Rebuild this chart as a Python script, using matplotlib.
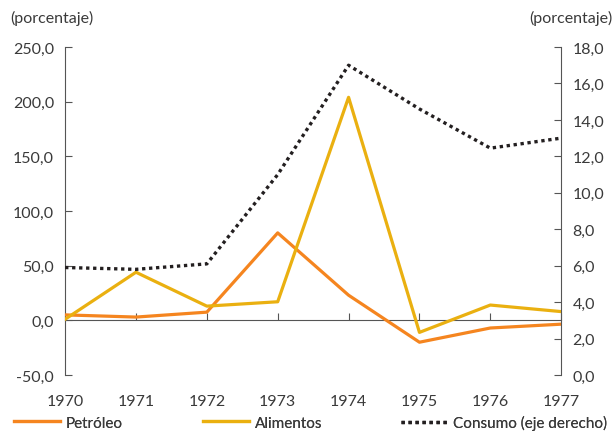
import matplotlib
matplotlib.use("Agg")
import matplotlib.pyplot as plt
from matplotlib.ticker import FuncFormatter

plt.rcParams["font.family"] = ["Lato", "DejaVu Sans"]

# datos
years = [1970, 1971, 1972, 1973, 1974, 1975, 1976, 1977]
petroleo = [5.0, 3.0, 7.5, 80.0, 23.0, -20.0, -7.0, -3.5]
alimentos = [1.0, 44.0, 13.0, 17.0, 204.0, -11.0, 14.0, 8.0]
consumo = [5.9, 5.8, 6.1, 11.0, 17.0, 14.6, 12.45, 13.0]

c_pet = "#F5851F"
c_ali = "#EAB010"
c_con = "#231F20"
txt = "#3a3a3a"
axc = "#555555"

fig = plt.figure(figsize=(6.14, 4.35), dpi=100)
ax = fig.add_axes([0.106, 0.1356, 0.808, 0.754])
ax2 = ax.twinx()

l_pet, = ax.plot(years, petroleo, color=c_pet, lw=2.3, label="Petróleo", zorder=3)
l_ali, = ax.plot(years, alimentos, color=c_ali, lw=2.3, label="Alimentos", zorder=3)
l_con, = ax2.plot(years, consumo, color=c_con, lw=2.4, linestyle=(0, (1, 1.1)),
                  label="Consumo (eje derecho)")

ax.set_xlim(1970, 1977)
ax.set_ylim(-50, 250)
ax2.set_ylim(0, 18)
ax.set_yticks([-50, 0, 50, 100, 150, 200, 250])
ax2.set_yticks([0, 2, 4, 6, 8, 10, 12, 14, 16, 18])

fmt = FuncFormatter(lambda v, p: f"{v:.1f}".replace(".", ","))
ax.yaxis.set_major_formatter(fmt)
ax2.yaxis.set_major_formatter(fmt)

for a in (ax, ax2):
    a.spines["top"].set_visible(False)
    a.spines["bottom"].set_visible(False)
    a.spines["left"].set_color(axc)
    a.spines["right"].set_color(axc)
ax2.spines["left"].set_visible(False)
ax.spines["right"].set_visible(False)

ax.spines["bottom"].set_visible(True)
ax.spines["bottom"].set_position(("data", 0))
ax.spines["bottom"].set_color(axc)
ax.set_xticks(years)
ax.tick_params(axis="x", direction="in", length=5, color=axc, labelbottom=False)
ax.tick_params(axis="y", direction="in", length=5, color=axc, labelsize=11.5,
               labelcolor=txt, pad=8)
ax2.tick_params(axis="y", direction="in", length=5, color=axc, labelsize=11.5,
                labelcolor=txt, pad=8)

sec = ax.secondary_xaxis("bottom")
sec.set_xticks(years)
sec.set_xticklabels([str(y) for y in years])
sec.spines["bottom"].set_visible(False)
sec.tick_params(length=0, labelsize=11.5, labelcolor=txt, pad=14)

fig.text(0.016, 0.958, "(porcentaje)", fontsize=11.5, color=txt, va="center")
fig.text(0.997, 0.958, "(porcentaje)", fontsize=11.5, color=txt, va="center", ha="right")

# leyenda en tres piezas
for h, x0 in [(l_pet, 0.0), (l_ali, 0.308), (l_con, 0.631)]:
    leg = fig.legend([h], [h.get_label()], loc="center left",
                     bbox_to_anchor=(x0, 0.026), frameon=False, fontsize=11,
                     labelcolor=txt, handlelength=3.0, handletextpad=0.4)
    fig.add_artist(leg)

fig.savefig("out.png", dpi=100)
